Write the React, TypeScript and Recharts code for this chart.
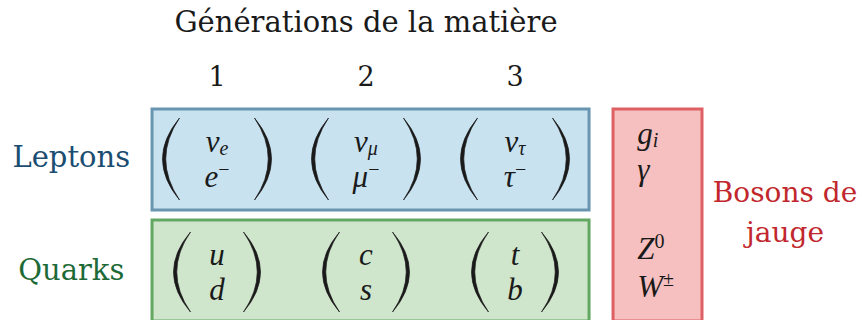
import { ScatterChart, Scatter, XAxis, YAxis, ReferenceArea, ReferenceLine } from 'recharts';

const TITLE = 'Générations de la matière';
const GENERATIONS = [1, 2, 3];
const FAMILIES = ['Leptons', 'Quarks'];
const FAMILY_ROWS = [1, 2];

// upper / lower member of each doublet, per generation
const NEUTRINO_FLAVOURS = ['e', 'μ', 'τ'];
const CHARGED_LEPTONS = ['e', 'μ', 'τ'];
const UP_QUARKS = ['u', 'c', 't'];
const DOWN_QUARKS = ['d', 's', 'b'];

const BOSON_BASES = ['g', 'γ', 'Z', 'W'];
const BOSON_SUBS = ['i', '', '', ''];
const BOSON_SUPS = ['', '', '0', '±'];
const BOSON_ROWS = [0.87, 1.19, 1.885, 2.22];
const BOSON_COLUMN = 3.82;
const BOSON_LABEL = ['Bosons de', 'jauge'];
const BOSON_LABEL_ROW = 1.5;

const TEXT_FONT = 'DejaVu Serif';
const MATH_FONT = 'Liberation Serif';
const FAMILY_COLORS = ['#1b4d72', '#1d6a37'];
const BOSON_COLOR = '#c1272d';
const INK = '#1a1a1a';

const LEFT_AXIS_W = 142.5;
const RIGHT_AXIS_W = 93;

type Sym = { base: string; sub?: string; sup?: string };

const leptons = GENERATIONS.map((g, i) => ({
  x: g,
  y: FAMILY_ROWS[0],
  top: { base: 'ν', sub: NEUTRINO_FLAVOURS[i] },
  bottom: { base: CHARGED_LEPTONS[i], sup: '−' },
}));

const quarks = GENERATIONS.map((g, i) => ({
  x: g,
  y: FAMILY_ROWS[1],
  top: { base: UP_QUARKS[i] },
  bottom: { base: DOWN_QUARKS[i] },
}));

const bosons = BOSON_BASES.map((b, i) => ({
  x: BOSON_COLUMN,
  y: BOSON_ROWS[i],
  sym: { base: b, sub: BOSON_SUBS[i], sup: BOSON_SUPS[i] },
}));

function MathText({ x, y, s, anchor }: { x: number; y: number; s: Sym; anchor: string }) {
  return (
    <text
      x={x}
      y={y}
      textAnchor={anchor}
      style={{ fontFamily: MATH_FONT, fontStyle: 'italic', fontSize: 31 }}
      fill={INK}
    >
      {s.base}
      {s.sub ? (
        <tspan style={{ fontSize: 20 }} dy={3}>
          {s.sub}
        </tspan>
      ) : null}
      {s.sup ? (
        <tspan style={{ fontSize: 20, fontStyle: 'normal' }} dy={-11}>
          {s.sup}
        </tspan>
      ) : null}
    </text>
  );
}

function paren(xOuter: number, cy: number, dir: number, h: number) {
  const w = 17;
  const t = cy - h;
  const b = cy + h;
  const xe = xOuter + dir * w;
  const xc = xOuter - dir * w;
  const xi = xOuter - dir * (w - 6.5);
  return `M${xe},${t} Q${xc},${cy} ${xe},${b} Q${xi},${cy} ${xe},${t} Z`;
}

function DoubletShape(props: any) {
  const { cx, cy, payload } = props;
  const scripted = Boolean(payload.top.sub || payload.bottom.sup);
  const half = scripted ? 54.5 : 43.5;
  const h = scripted ? 41 : 40;
  return (
    <g>
      <path d={paren(cx - half, cy, 1, h)} fill={INK} stroke={INK} strokeWidth={0.7} />
      <path d={paren(cx + half, cy, -1, h)} fill={INK} stroke={INK} strokeWidth={0.7} />
      <MathText x={cx} y={cy - 7} s={payload.top} anchor="middle" />
      <MathText x={cx} y={cy + 28} s={payload.bottom} anchor="middle" />
    </g>
  );
}

function BosonShape(props: any) {
  const { cx, cy, payload } = props;
  return <MathText x={cx} y={cy} s={payload.sym} anchor="start" />;
}

function FamilyTick(props: any) {
  const { y, payload } = props;
  const i = FAMILY_ROWS.indexOf(payload.value);
  return (
    <text
      x={LEFT_AXIS_W / 2}
      y={y + 8}
      textAnchor="middle"
      fill={FAMILY_COLORS[i]}
      style={{ fontFamily: TEXT_FONT, fontSize: 29 }}
    >
      {FAMILIES[i]}
    </text>
  );
}

function BosonTick(props: any) {
  const { x, y } = props;
  const cx = x + RIGHT_AXIS_W / 2;
  return (
    <text x={cx} y={y - 13.5} textAnchor="middle" fill={BOSON_COLOR} style={{ fontFamily: TEXT_FONT, fontSize: 28 }}>
      <tspan x={cx}>{BOSON_LABEL[0]}</tspan>
      <tspan x={cx} dy={40}>
        {BOSON_LABEL[1]}
      </tspan>
    </text>
  );
}

export default function App() {
  return (
    <div style={{ position: 'absolute', left: 0, top: 0, width: 862, height: 320, overflow: 'hidden', background: '#fff' }}>
      <ScatterChart width={862} height={330} margin={{ top: 62.5, right: 30.5, bottom: 1.5, left: 0 }}>
        <XAxis
          type="number"
          dataKey="x"
          orientation="top"
          domain={[0.5, 4.5]}
          ticks={GENERATIONS}
          height={40}
          axisLine={false}
          tickLine={false}
          tickSize={0}
          tickMargin={16.5}
          tick={{ fill: INK, fontSize: 27, fontFamily: TEXT_FONT }}
        />
        <YAxis
          type="number"
          dataKey="y"
          reversed
          domain={[0.5, 2.5]}
          ticks={FAMILY_ROWS}
          width={LEFT_AXIS_W}
          axisLine={false}
          tickLine={false}
          tickSize={0}
          tickMargin={0}
          tick={<FamilyTick />}
        />
        <YAxis
          yAxisId="r"
          type="number"
          dataKey="y"
          orientation="right"
          reversed
          domain={[0.5, 2.5]}
          ticks={[BOSON_LABEL_ROW]}
          width={RIGHT_AXIS_W}
          axisLine={false}
          tickLine={false}
          tickSize={0}
          tickMargin={0}
          tick={<BosonTick />}
        />
        <ReferenceArea x1={0.564} x2={3.497} y1={0.558} y2={1.451} fill="#c8e2f0" fillOpacity={1} stroke="#6a95b0" strokeWidth={3} />
        <ReferenceArea x1={0.564} x2={3.497} y1={1.54} y2={2.434} fill="#d0e6cc" fillOpacity={1} stroke="#62a862" strokeWidth={3} />
        <ReferenceArea x1={3.658} x2={4.255} y1={0.558} y2={2.434} fill="#f7c0c0" fillOpacity={1} stroke="#df6064" strokeWidth={3} />
        <ReferenceLine
          x={2}
          stroke="none"
          label={{ value: TITLE, position: 'top', offset: 70.5, fill: INK, fontSize: 29, fontFamily: TEXT_FONT }}
        />
        <Scatter data={leptons} shape={<DoubletShape />} isAnimationActive={false} />
        <Scatter data={quarks} shape={<DoubletShape />} isAnimationActive={false} />
        <Scatter data={bosons} yAxisId="r" shape={<BosonShape />} isAnimationActive={false} />
      </ScatterChart>
    </div>
  );
}
